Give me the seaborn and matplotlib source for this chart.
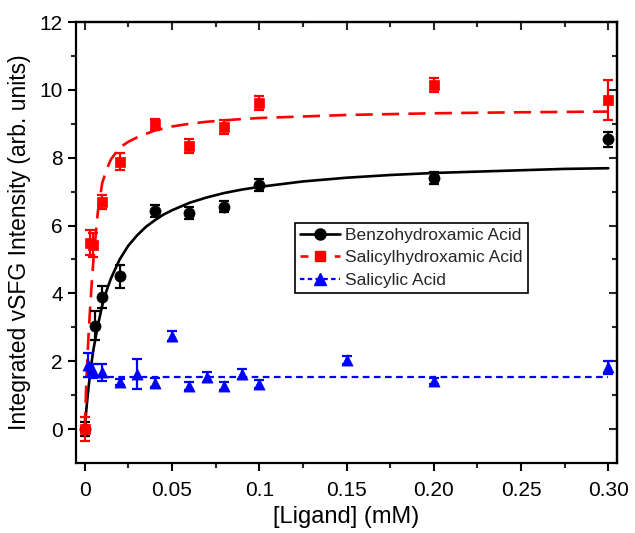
import matplotlib
matplotlib.use("Agg")
import matplotlib.pyplot as plt
from matplotlib.lines import Line2D
import seaborn as sns
import pandas as pd

# ---------------- data ----------------
benzo_x = [0, 0.006, 0.01, 0.02, 0.04, 0.06, 0.08, 0.1, 0.2, 0.3]
benzo_y = [0, 3.05, 3.9, 4.5, 6.42, 6.38, 6.55, 7.2, 7.4, 8.55]
benzo_err = [0.2, 0.42, 0.32, 0.34, 0.18, 0.18, 0.16, 0.18, 0.18, 0.22]

salhx_x = [0, 0.003, 0.005, 0.01, 0.02, 0.04, 0.06, 0.08, 0.1, 0.2, 0.3]
salhx_y = [0, 5.5, 5.42, 6.7, 7.88, 8.98, 8.35, 8.9, 9.62, 10.15, 9.7]
salhx_err = [0.35, 0.37, 0.35, 0.2, 0.25, 0.15, 0.2, 0.2, 0.2, 0.2, 0.6]

salic_x = [0.002, 0.005, 0.01, 0.02, 0.03, 0.04, 0.05, 0.06, 0.07, 0.08, 0.09, 0.1, 0.15, 0.2, 0.3]
salic_y = [1.88, 1.72, 1.67, 1.39, 1.62, 1.37, 2.74, 1.28, 1.53, 1.27, 1.62, 1.32, 2.03, 1.42, 1.82]
salic_err = [0.35, 0.2, 0.25, 0.1, 0.45, 0.13, 0.15, 0.12, 0.14, 0.12, 0.14, 0.12, 0.12, 0.1, 0.2]

# fitted curves
benzo_fit_x = [0, 0.001, 0.002, 0.003, 0.004, 0.005, 0.0075, 0.01, 0.0125, 0.015, 0.02,
               0.025, 0.03, 0.035, 0.04, 0.045, 0.05, 0.06, 0.07, 0.08, 0.09, 0.1,
               0.125, 0.15, 0.175, 0.2, 0.225, 0.25, 0.275, 0.3]
benzo_fit_y = [0, 0.62, 1.14, 1.6, 2.0, 2.35, 3.05, 3.64, 4.08, 4.44, 5.0,
               5.41, 5.71, 5.96, 6.15, 6.32, 6.45, 6.67, 6.83, 6.96, 7.06, 7.14,
               7.3, 7.41, 7.49, 7.55, 7.59, 7.63, 7.67, 7.69]
salhx_fit_x = [0, 0.001, 0.002, 0.003, 0.004, 0.005, 0.0075, 0.01, 0.0125, 0.015, 0.02,
               0.025, 0.03, 0.035, 0.04, 0.045, 0.05, 0.06, 0.07, 0.08, 0.09, 0.1,
               0.15, 0.2, 0.25, 0.3]
salhx_fit_y = [0, 1.5, 2.6, 3.5, 4.3, 5.0, 6.4, 7.25, 7.65, 7.95, 8.3,
               8.47, 8.6, 8.7, 8.8, 8.86, 8.92, 9.0, 9.06, 9.1, 9.14, 9.17,
               9.26, 9.31, 9.34, 9.36]
salic_fit_x = [0, 0.3]
salic_fit_y = [1.55, 1.55]

labels = ["Benzohydroxamic Acid", "Salicylhydroxamic Acid", "Salicylic Acid"]
xtick_vals = [0, 0.05, 0.1, 0.15, 0.20, 0.25, 0.30]
xtick_labels = ["0", "0.05", "0.1", "0.15", "0.20", "0.25", "0.30"]
ytick_vals = [0, 2, 4, 6, 8, 10, 12]

# ---------------- style ----------------
sns.set_theme(style="ticks")
plt.rcParams["font.family"] = ["Liberation Sans", "DejaVu Sans"]

fig = plt.figure(figsize=(6.35, 5.33), dpi=100)
ax = fig.add_axes([0.1197, 0.1313, 0.852, 0.8274])

BLACK = "#000000"
RED = "#ff0000"
BLUE = "#0000ff"

# fit lines
sns.lineplot(x=benzo_fit_x, y=benzo_fit_y, ax=ax, color=BLACK, lw=1.9, zorder=2, sort=False)
sns.lineplot(x=salhx_fit_x, y=salhx_fit_y, ax=ax, color=RED, lw=1.9, zorder=3, sort=False)
ax.lines[-1].set_dashes([6.5, 3.5])
sns.lineplot(x=salic_fit_x, y=salic_fit_y, ax=ax, color=BLUE, lw=1.6, zorder=4, sort=False)
ax.lines[-1].set_dashes([3, 2])

# error bars + markers
specs = [
    (benzo_x, benzo_y, benzo_err, BLACK, "o", 8.0, 5),
    (salhx_x, salhx_y, salhx_err, RED, "s", 7.0, 6),
    (salic_x, salic_y, salic_err, BLUE, "^", 8.0, 7),
]
for xs, ys, es, c, m, ms, z in specs:
    ax.errorbar(xs, ys, yerr=es, fmt="none", ecolor=c, elinewidth=1.6,
                capsize=3.5, capthick=1.6, zorder=z)
    df = pd.DataFrame({"x": xs, "y": ys})
    sns.scatterplot(data=df, x="x", y="y", ax=ax, color=c, marker=m,
                    s=ms ** 2, edgecolor=c, linewidth=0.5, zorder=z + 0.5)

# axes
ax.set_xlim(-0.005, 0.305)
ax.set_ylim(-1, 12)
ax.set_xticks(xtick_vals)
ax.set_xticklabels(xtick_labels)
ax.set_yticks(ytick_vals)
ax.set_xticks([0.025, 0.075, 0.125, 0.175, 0.225, 0.275], minor=True)
ax.set_yticks([1, 3, 5, 7, 9, 11], minor=True)
ax.tick_params(axis="x", which="major", pad=7)
ax.tick_params(axis="both", which="major", direction="out", length=6, width=1.5,
               labelsize=15, color="black", labelcolor="black")
ax.tick_params(axis="both", which="minor", direction="out", length=3.5, width=1.5)
for s in ax.spines.values():
    s.set_linewidth(1.6)
    s.set_color("black")

# inward ticks on top and right
axt = ax.secondary_xaxis("top")
axt.set_xticks(xtick_vals)
axt.set_xticks([0.025, 0.075, 0.125, 0.175, 0.225, 0.275], minor=True)
axt.tick_params(which="major", direction="in", length=6, width=1.5, labeltop=False)
axt.tick_params(which="minor", direction="in", length=3.5, width=1.5)
axt.spines["top"].set_linewidth(1.6)
axr = ax.secondary_yaxis("right")
axr.set_yticks(ytick_vals)
axr.set_yticks([1, 3, 5, 7, 9, 11], minor=True)
axr.tick_params(which="major", direction="in", length=6, width=1.5, labelright=False)
axr.tick_params(which="minor", direction="in", length=3.5, width=1.5)
axr.spines["right"].set_linewidth(1.6)

ax.set_xlabel("[Ligand] (mM)", fontsize=17, color="black", labelpad=4)
ax.set_ylabel("Integrated vSFG Intensity (arb. units)", fontsize=16.5, color="black", labelpad=6)

# legend
handles = [
    Line2D([], [], color=BLACK, lw=1.9, marker="o", markersize=8),
    Line2D([], [], color=RED, lw=1.9, marker="s", markersize=7, dashes=[3, 3.5]),
    Line2D([], [], color=BLUE, lw=1.6, marker="^", markersize=8, dashes=[2, 1.5]),
]
leg = ax.legend(handles, labels, loc="upper left", bbox_to_anchor=(0.405, 0.545),
                fontsize=12.5, frameon=True, fancybox=False, edgecolor="black",
                handlelength=2.3, handletextpad=0.3, borderpad=0.3,
                labelspacing=0.42, borderaxespad=0)
leg.get_frame().set_linewidth(1.2)
leg.get_frame().set_alpha(1)

fig.savefig("out.png", dpi=100)
